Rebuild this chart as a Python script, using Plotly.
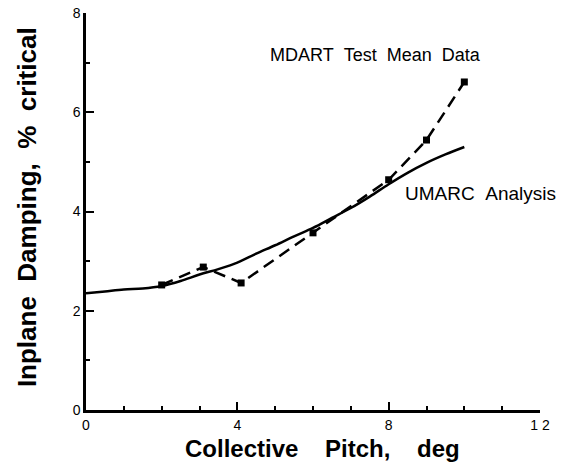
import plotly.graph_objects as go

# MDART test mean data
mdart_x = [2.0, 3.1, 4.1, 6.0, 8.0, 9.0, 10.0]
mdart_y = [2.52, 2.88, 2.56, 3.57, 4.64, 5.44, 6.61]

# UMARC analysis curve
umarc_x = [0, 0.5, 1, 1.5, 2, 2.5, 3, 3.5, 4, 4.5, 5, 5.5, 6, 6.5, 7, 7.5, 8, 8.5, 9, 9.5, 10]
umarc_y = [2.35, 2.39, 2.43, 2.45, 2.5, 2.6, 2.73, 2.84, 2.97, 3.15, 3.32, 3.5, 3.67, 3.87, 4.07, 4.3, 4.55, 4.78, 4.98, 5.15, 5.3]

x_ticks = [0, 4, 8, 12]
x_ticklabels = ["0", "4", "8", "1 2"]
y_ticks = [0, 2, 4, 6, 8]

FONT = "Liberation Sans, Arial, Helvetica"

fig = go.Figure()
fig.add_trace(go.Scatter(x=umarc_x, y=umarc_y, mode="lines",
                         line=dict(color="black", width=2.5, shape="spline"),
                         showlegend=False))
fig.add_trace(go.Scatter(x=mdart_x, y=mdart_y, mode="lines+markers",
                         line=dict(color="black", width=2.5, dash="12px,7px"),
                         marker=dict(symbol="square", size=7, color="black"),
                         showlegend=False))

s2 = "\u00a0\u00a0"
fig.add_annotation(x=7.64, y=7.15, text="MDART Test Mean Data".replace(" ", s2),
                   showarrow=False, font=dict(family=FONT, size=18, color="black"))
fig.add_annotation(x=8.39, y=4.37, text="UMARC Analysis".replace(" ", s2), showarrow=False, xanchor="left",
                   font=dict(family=FONT, size=19, color="black"))

spx = "\u00a0" * 4
spy = "\u00a0" * 2
# axis titles placed as paper-anchored text
fig.add_annotation(xref="paper", yref="paper", x=0.522, y=-0.098, yanchor="middle",
                   text="<b>Collective" + spx + "Pitch," + spx + "deg</b>", showarrow=False,
                   font=dict(family=FONT, size=24, color="black"))
fig.add_annotation(xref="paper", yref="paper", x=-0.13, y=0.511, xanchor="center", yanchor="middle",
                   textangle=-90,
                   text="<b>Inplane" + spy + "Damping," + spy + "%" + spy + "critical</b>", showarrow=False,
                   font=dict(family=FONT, size=26, color="black"))

tickfont = dict(family=FONT, size=14, color="black")
fig.update_layout(
    width=575, height=466,
    margin=dict(l=86, r=35, t=13, b=56),
    plot_bgcolor="white", paper_bgcolor="white",
    font=dict(family=FONT, color="black", size=13),
    xaxis=dict(range=[0, 12], tickvals=x_ticks, ticktext=x_ticklabels, automargin=False,
               tickfont=tickfont,
               showgrid=False, zeroline=False, showline=True, linecolor="black", linewidth=2.5,
               ticks="inside", ticklen=8, tickwidth=2, tickcolor="black",
               minor=dict(dtick=1, ticks="inside", ticklen=4, tickwidth=2, tickcolor="black")),
    yaxis=dict(range=[0, 8], tickvals=y_ticks, automargin=False,
               tickfont=tickfont,
               showgrid=False, zeroline=False, showline=True, linecolor="black", linewidth=2.5,
               ticks="inside", ticklen=8, tickwidth=2, tickcolor="black",
               minor=dict(dtick=1, ticks="inside", ticklen=4, tickwidth=2, tickcolor="black")),
)

fig.write_html("out.html")
